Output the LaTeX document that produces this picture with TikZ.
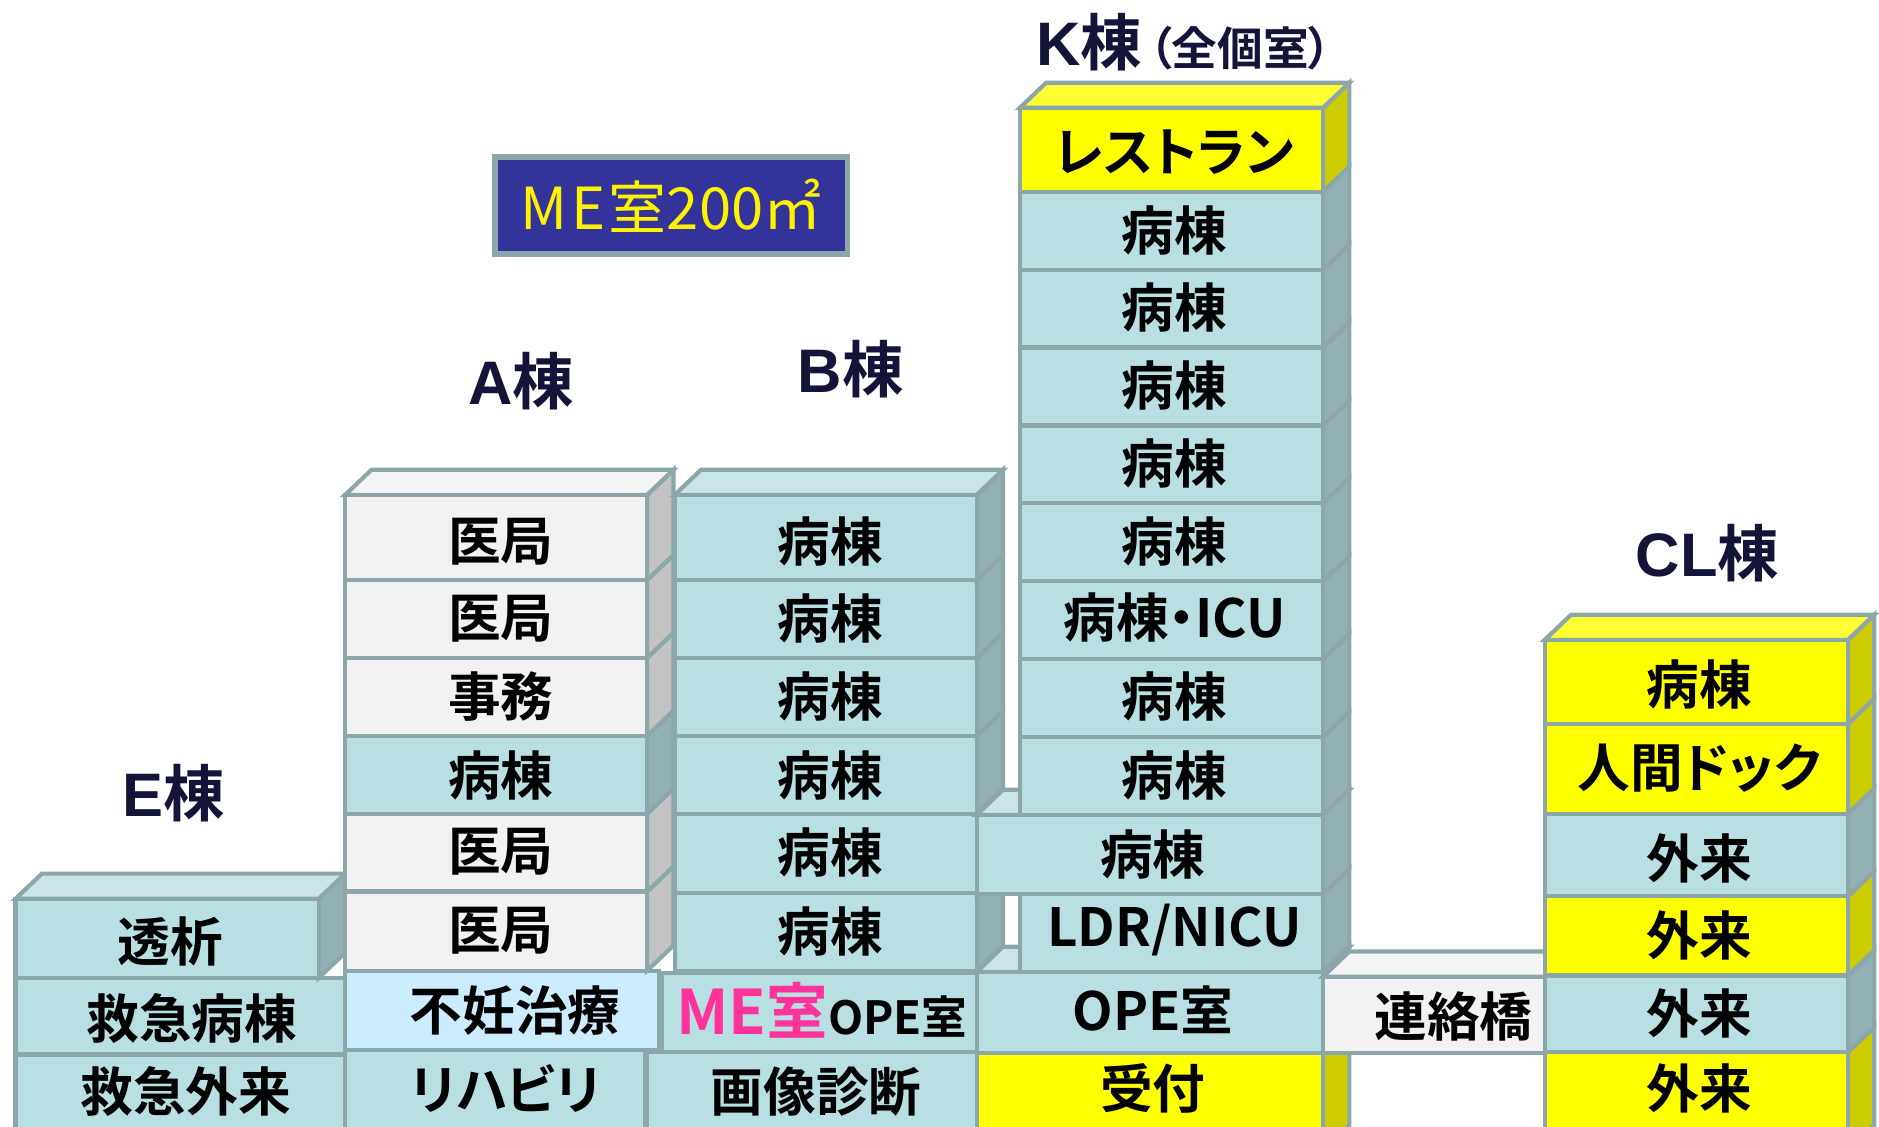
\documentclass[tikz,border=0pt]{standalone}
\usepackage{fontspec}
\newfontfamily\jpb{Noto Sans CJK JP Bold}[RawFeature=+palt]
\newfontfamily\jpr{Noto Sans CJK JP}[RawFeature=+palt]
\newfontfamily\latb{Liberation Sans}[BoldFont={Liberation Sans Bold}]
\definecolor{tf}{HTML}{B8DFE2}
\definecolor{ts}{HTML}{93B1B4}
\definecolor{tt}{HTML}{CAE5E8}
\definecolor{gf}{HTML}{F2F2F2}
\definecolor{gs}{HTML}{C3C3C3}
\definecolor{gt}{HTML}{F5F5F5}
\definecolor{yf}{HTML}{FFFF00}
\definecolor{ys}{HTML}{CCCC00}
\definecolor{yt}{HTML}{FFFF33}
\definecolor{bf}{HTML}{CCECFF}
\definecolor{edgec}{HTML}{8CA6A9}
\definecolor{navybox}{HTML}{333399}
\definecolor{pinktx}{HTML}{FF3399}
\definecolor{labc}{HTML}{14143A}
\tikzset{
  bd/.style={draw=edgec, line width=1.2pt, line join=miter},
  tx/.style={font=\jpb\fontsize{15pt}{15pt}\selectfont, inner sep=0pt, text=black},
  ttl/.style={font=\jpb\fontsize{17.5pt}{17.5pt}\selectfont, inner sep=0pt, text=labc},
}
\newcommand\DX{22}
\newcommand\DY{21}
% front face: x1 x2 y1 y2 fill
\newcommand\fface[5]{\filldraw[bd,fill=#5] (#1,#3) rectangle (#2,#4);}
% side face: x2 y1 y2 fill
\newcommand\sface[4]{\filldraw[bd,fill=#4] (#1,#2) -- ({#1+\DX},{#2-\DY}) -- ({#1+\DX},{#3-\DY}) -- (#1,#3) -- cycle;}
% top face: x1 x2 y1 fill
\newcommand\tface[4]{\filldraw[bd,fill=#4] (#1,#3) -- ({#1+\DX},{#3-\DY}) -- ({#2+\DX},{#3-\DY}) -- (#2,#3) -- cycle;}
\newcommand\roomtext[4]{\node[tx] (#1) at (#2,#3) {#4};}
\begin{document}
\begin{tikzpicture}[x=0.012cm,y=-0.012cm]
\useasboundingbox (0,0) rectangle (1568,940);
\clip (0,0) rectangle (1568,940);
% ---------- E ----------
\fface{13}{288}{880}{960}{tf}
\fface{13}{288}{816}{880}{tf}
\sface{266}{750}{816}{ts}
\tface{13}{266}{750}{tt}
\fface{13}{266}{750}{816}{tf}
\roomtext{e1}{142}{786}{透析}
\roomtext{e2}{160}{850}{救急病棟}
\roomtext{e3}{155}{911}{救急外来}
% ---------- A ----------
\fface{288}{538}{876}{960}{tf}
\fface{288}{550}{810}{876}{bf}
\sface{540}{744}{810}{gs}\fface{288}{540}{744}{810}{gf}
\sface{540}{679}{744}{gs}\fface{288}{540}{679}{744}{gf}
\sface{540}{614}{679}{ts}\fface{288}{540}{614}{679}{tf}
\sface{540}{549}{614}{gs}\fface{288}{540}{549}{614}{gf}
\sface{540}{484}{549}{gs}\fface{288}{540}{484}{549}{gf}
\sface{540}{413}{484}{gs}\tface{288}{540}{413}{gt}\fface{288}{540}{413}{484}{gf}
\roomtext{a1}{418}{452}{医局}
\roomtext{a2}{418}{516}{医局}
\roomtext{a3}{418}{581}{事務}
\roomtext{a4}{418}{647}{病棟}
\roomtext{a5}{418}{711}{医局}
\roomtext{a6}{418}{777}{医局}
\roomtext{a7}{430}{843}{不妊治療}
\roomtext{a8}{422}{908}{リハビリ}
% ---------- B ----------
\fface{540}{815}{878}{960}{tf}
\fface{552}{815}{812}{878}{tf}
\sface{815}{745}{810}{ts}\fface{563}{815}{745}{810}{tf}
\sface{815}{679}{745}{ts}\fface{563}{815}{679}{745}{tf}
\sface{815}{614}{679}{ts}\fface{563}{815}{614}{679}{tf}
\sface{815}{549}{614}{ts}\fface{563}{815}{549}{614}{tf}
\sface{815}{484}{549}{ts}\fface{563}{815}{484}{549}{tf}
\sface{815}{413}{484}{ts}\tface{563}{815}{413}{tt}\fface{563}{815}{413}{484}{tf}
\roomtext{b1}{693}{452}{病棟}
\roomtext{b2}{693}{516}{病棟}
\roomtext{b3}{693}{581}{病棟}
\roomtext{b4}{693}{647}{病棟}
\roomtext{b5}{693}{711}{病棟}
\roomtext{b6}{693}{777}{病棟}
\node[tx] (b7) at (686,843) {{\color{pinktx}\fontsize{17.5pt}{17.5pt}\selectfont ME室}{\fontsize{13pt}{13pt}\selectfont OPE室}};
\roomtext{b8}{681}{911}{画像診断}
% ---------- K ----------
\sface{1104}{879}{960}{ys}\fface{815}{1104}{879}{960}{yf}
\sface{1104}{811}{879}{ts}\tface{815}{1104}{811}{tt}\fface{815}{1104}{811}{879}{tf}
\sface{1104}{746}{811}{ts}\fface{851}{1104}{746}{811}{tf}
\sface{1104}{680}{746}{ts}\tface{815}{1104}{680}{tt}\fface{815}{1104}{680}{746}{tf}
\sface{1104}{615}{680}{ts}\fface{851}{1104}{615}{680}{tf}
\sface{1104}{550}{615}{ts}\fface{851}{1104}{550}{615}{tf}
\sface{1104}{485}{550}{ts}\fface{851}{1104}{485}{550}{tf}
\sface{1104}{420}{485}{ts}\fface{851}{1104}{420}{485}{tf}
\sface{1104}{355}{420}{ts}\fface{851}{1104}{355}{420}{tf}
\sface{1104}{290}{355}{ts}\fface{851}{1104}{290}{355}{tf}
\sface{1104}{225}{290}{ts}\fface{851}{1104}{225}{290}{tf}
\sface{1104}{160}{225}{ts}\fface{851}{1104}{160}{225}{tf}
\sface{1104}{90}{160}{ys}\tface{851}{1104}{90}{yt}\fface{851}{1104}{90}{160}{yf}
\roomtext{k1}{980}{127}{レストラン}
\roomtext{k2}{980}{192}{病棟}
\roomtext{k3}{980}{257}{病棟}
\roomtext{k4}{980}{322}{病棟}
\roomtext{k5}{980}{387}{病棟}
\roomtext{k6}{980}{452}{病棟}
\roomtext{k7}{980}{515}{病棟・ICU}
\roomtext{k8}{980}{581}{病棟}
\roomtext{k9}{980}{647}{病棟}
\roomtext{k10}{962}{713}{病棟}
\roomtext{k11}{980}{776}{LDR/NICU}
\roomtext{k12}{962}{843}{OPE室}
\roomtext{k13}{962}{908}{受付}
% ---------- bridge ----------
\tface{1104}{1289}{815}{gt}\fface{1104}{1289}{815}{879}{gf}
\roomtext{br}{1213}{848}{連絡橋}
% ---------- CL ----------
\sface{1542}{878}{960}{ys}\fface{1289}{1542}{878}{960}{yf}
\sface{1542}{814}{878}{ts}\fface{1289}{1542}{814}{878}{tf}
\sface{1542}{748}{814}{ys}\fface{1289}{1542}{748}{814}{yf}
\sface{1542}{679}{748}{ts}\fface{1289}{1542}{679}{748}{tf}
\sface{1542}{604}{679}{ys}\fface{1289}{1542}{604}{679}{yf}
\sface{1542}{534}{604}{ys}\tface{1289}{1542}{534}{yt}\fface{1289}{1542}{534}{604}{yf}
\roomtext{c1}{1418}{571}{病棟}
\roomtext{c2}{1418}{641}{人間ドック}
\roomtext{c3}{1418}{716}{外来}
\roomtext{c4}{1418}{781}{外来}
\roomtext{c5}{1418}{846}{外来}
\roomtext{c6}{1418}{908}{外来}
% ---------- labels ----------
\node[ttl] (labE) at (145,662) {{\latb\bfseries E}棟};
\node[ttl] (labA) at (435,318) {{\latb\bfseries A}棟};
\node[ttl] (labB) at (710,308) {{\latb\bfseries B}棟};
\node[ttl] (labK) at (988,35) {{\latb\bfseries K}棟\kern2pt{\fontsize{13pt}{13pt}\selectfont（全個室）}};
\node[ttl] (labCL) at (1425,462) {{\latb\bfseries CL}棟};
% ---------- ME box ----------
\filldraw[draw=edgec, line width=1.5pt, fill=navybox] (413,131) rectangle (707,212);
\node[font=\jpr\fontsize{16.5pt}{16.5pt}\selectfont, text=yellow, inner sep=0pt] (me) at (560,172) {M\kern1pt E\kern1pt 室200㎡};
\end{tikzpicture}
\end{document}
